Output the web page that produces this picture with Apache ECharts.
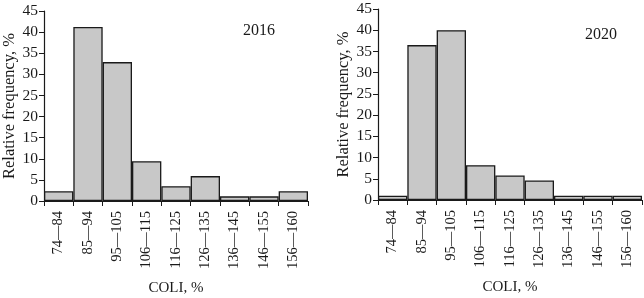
<!DOCTYPE html>
<html>
<head>
<meta charset="utf-8">
<script src="https://cdn.jsdelivr.net/npm/echarts@6/dist/echarts.min.js"></script>
<style>
  html, body { margin: 0; padding: 0; background: #fff; }
  #container { width: 644px; height: 298px; }
</style>
</head>
<body>
<div id="container"></div>
<script>
var categories = ['74\u201484', '85\u201494', '95\u2014105', '106\u2014115', '116\u2014125', '126\u2014135', '136\u2014145', '146\u2014155', '156\u2014160'];
var values2016 = [2.3, 41.2, 32.9, 9.4, 3.5, 5.9, 1.1, 1.1, 2.3];
var values2020 = [1.0, 36.5, 40.0, 8.2, 5.8, 4.6, 1.0, 1.0, 1.0];
var yTicks = { min: 0, max: 45, interval: 5 };

var font = 'Liberation Serif';
var myChart = echarts.init(document.getElementById('container'));

function xAxis(idx) {
    return {
        type: 'category',
        gridIndex: idx,
        data: categories,
        name: 'COLI, %',
        nameLocation: 'middle',
        nameGap: 80,
        nameTextStyle: { fontFamily: font, fontSize: 15, color: '#1a1a1a' },
        axisLine: { lineStyle: { color: '#1a1a1a', width: 1.2 } },
        axisTick: { show: true, length: 5, lineStyle: { color: '#1a1a1a' } },
        axisLabel: { rotate: 90, margin: 10, fontFamily: font, fontSize: 14.5, color: '#1a1a1a', interval: 0 }
    };
}
function yAxis(idx) {
    return {
        type: 'value',
        gridIndex: idx,
        min: yTicks.min, max: yTicks.max, interval: yTicks.interval,
        name: 'Relative frequency, %',
        nameLocation: 'middle',
        nameGap: 25,
        nameTextStyle: { fontFamily: font, fontSize: 16.5, color: '#1a1a1a' },
        axisLine: { show: true, lineStyle: { color: '#1a1a1a', width: 1.2 } },
        axisTick: { show: true, length: 5, lineStyle: { color: '#1a1a1a' } },
        axisLabel: { margin: 6, fontFamily: font, fontSize: 15.5, color: '#1a1a1a' },
        splitLine: { show: false }
    };
}
function series(idx, data) {
    return {
        type: 'bar',
        xAxisIndex: idx,
        yAxisIndex: idx,
        data: data,
        barCategoryGap: 0,
        itemStyle: { color: '#c8c8c8', borderColor: '#1a1a1a', borderWidth: 1.3 },
        emphasis: { disabled: true }
    };
}

myChart.setOption({
    animation: false,
    title: [
        { text: '2016', left: 238, top: 18, textStyle: { fontFamily: font, fontSize: 16, fontWeight: 'normal', color: '#1a1a1a' } },
        { text: '2020', left: 580, top: 22, textStyle: { fontFamily: font, fontSize: 16, fontWeight: 'normal', color: '#1a1a1a' } }
    ],
    grid: [
        { left: 44, top: 11, width: 264, height: 190, outerBoundsMode: 'none' },
        { left: 378, top: 9, width: 264, height: 191, outerBoundsMode: 'none' }
    ],
    xAxis: [xAxis(0), xAxis(1)],
    yAxis: [yAxis(0), yAxis(1)],
    series: [series(0, values2016), series(1, values2020)]
});
</script>
</body>
</html>
